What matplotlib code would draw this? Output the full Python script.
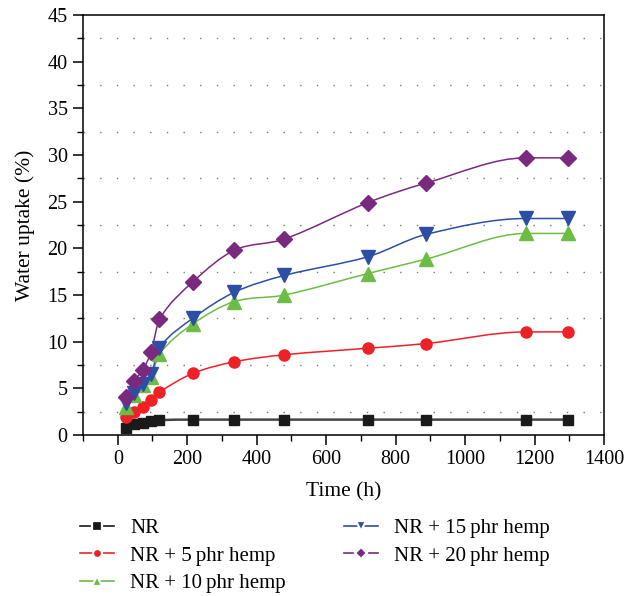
import numpy as np
import matplotlib.pyplot as plt
from matplotlib.path import Path
from matplotlib.patches import PathPatch
from matplotlib.lines import Line2D
from matplotlib.ticker import MultipleLocator

plt.rcParams['font.family'] = ['Liberation Serif', 'DejaVu Serif']

# Data
time_h = [24, 48, 72, 96, 120, 216, 336, 480, 720, 888, 1176, 1296]
nr = [0.8, 1.2, 1.3, 1.5, 1.6, 1.65, 1.65, 1.65, 1.65, 1.65, 1.65, 1.65]
nr_5 = [1.9, 2.5, 3.0, 3.75, 4.6, 6.6, 7.85, 8.6, 9.3, 9.8, 11.05, 11.05]
nr_10 = [3.0, 4.3, 5.4, 6.25, 8.7, 11.9, 14.3, 15.0, 17.3, 18.85, 21.6, 21.6]
nr_15 = [3.4, 4.5, 5.5, 6.5, 9.35, 12.5, 15.3, 17.1, 19.1, 21.5, 23.2, 23.2]
nr_20 = [4.1, 5.8, 7.0, 8.9, 12.4, 16.4, 19.8, 21.0, 24.9, 27.0, 29.7, 29.7]

labels = ["NR", "NR + 5\u2009phr hemp", "NR + 10\u2009phr hemp",
          "NR + 15\u2009phr hemp", "NR + 20\u2009phr hemp"]
series = [nr, nr_5, nr_10, nr_15, nr_20]
colors = ["#1a1a1a", "#ee2127", "#6cbd45", "#2c4fa3", "#7a2a7e"]
line_colors = ["#444444", "#ee2127", "#6cbd45", "#2c4fa3", "#7a2a7e"]
markers = ["s", "o", "^", "v", "D"]
msizes = [7, 8, 9.5, 9.5, 8.5]


def slopes(x, y):
    # centred chord slopes, flattened where the trend turns or stops
    x = np.asarray(x, float)
    y = np.asarray(y, float)
    d = np.diff(y) / np.diff(x)
    m = np.zeros_like(y)
    for i in range(1, len(x) - 1):
        if d[i - 1] * d[i] <= 0:
            m[i] = 0.0
        else:
            m[i] = (y[i + 1] - y[i - 1]) / (x[i + 1] - x[i - 1])
    m[0] = d[0]
    m[-1] = d[-1]
    return m


def smooth_path(x, y):
    m = slopes(x, y)
    verts = [(x[0], y[0])]
    codes = [Path.MOVETO]
    for i in range(len(x) - 1):
        h = x[i + 1] - x[i]
        verts += [(x[i] + h / 3, y[i] + m[i] * h / 3),
                  (x[i + 1] - h / 3, y[i + 1] - m[i + 1] * h / 3),
                  (x[i + 1], y[i + 1])]
        codes += [Path.CURVE4] * 3
    return Path(verts, codes)


fig = plt.figure(figsize=(6.28, 5.96), dpi=100)
ax = fig.add_axes([0.1322, 0.2701, 0.8296, 0.7047])

for i, (vals, c, lc, mk, ms) in enumerate(zip(series, colors, line_colors, markers, msizes)):
    lw = 1.8 if i == 0 else 1.1
    ax.add_patch(PathPatch(smooth_path(time_h, vals), facecolor="none",
                           edgecolor=lc, lw=lw, zorder=2))
    ax.plot(time_h, vals, linestyle="none", marker=mk, ms=ms, color=c,
            markeredgecolor=c, zorder=3)

ax.set_xlim(-100, 1400)
ax.set_ylim(0, 45)
ax.xaxis.set_major_locator(MultipleLocator(200))
ax.xaxis.set_minor_locator(MultipleLocator(100))
ax.yaxis.set_major_locator(MultipleLocator(5))
ax.yaxis.set_minor_locator(MultipleLocator(2.5))

# dotted lines at the minor y ticks
for yv in np.arange(2.5, 45, 5):
    ax.axhline(yv, color="#777777", lw=1.0, ls=(0, (1, 11)), zorder=1)

ax.tick_params(which="major", direction="out", length=7, width=1.1,
               labelsize=14.5, top=False, right=False, pad=4)
ax.tick_params(which="minor", direction="out", length=4, width=1.0,
               top=False, right=False)
for s in ax.spines.values():
    s.set_linewidth(1.1)

ax.set_xlabel("Time (h)", fontsize=15.5, labelpad=9)
ax.set_ylabel("Water uptake (%)", fontsize=15.5, labelpad=9)

handles = [Line2D([0], [0], color=c, marker=mk, ms=6.5, lw=1.2,
                  markerfacecolor=c, markeredgecolor="white", markeredgewidth=1.6)
           for c, mk in zip(colors, markers)]
fig.legend(handles, labels, ncol=2, frameon=False, fontsize=15,
           loc="upper left", bbox_to_anchor=(0.128, 0.13),
           handlelength=1.6, handletextpad=0.8, columnspacing=2.8,
           labelspacing=0.38, borderaxespad=0, borderpad=0)

fig.savefig("out.png", dpi=100)
